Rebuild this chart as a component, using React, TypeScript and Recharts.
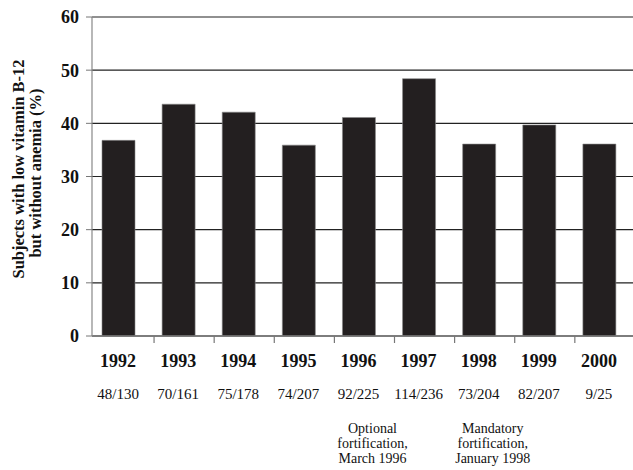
import { BarChart, Bar, XAxis, YAxis, CartesianGrid } from "recharts";

const years = ["1992", "1993", "1994", "1995", "1996", "1997", "1998", "1999", "2000"];
const percents = [36.8, 43.6, 42.1, 35.9, 41.1, 48.4, 36.1, 39.7, 36.1];
const counts = ["48/130", "70/161", "75/178", "74/207", "92/225", "114/236", "73/204", "82/207", "9/25"];
const notes = [
  [],
  [],
  [],
  [],
  ["Optional", "fortification,", "March 1996"],
  [],
  ["Mandatory", "fortification,", "January 1998"],
  [],
  [],
];
const yTicks = [0, 10, 20, 30, 40, 50, 60];

const data = years.map((year, i) => ({ year, pct: percents[i] }));

const serif = "'Liberation Serif', 'DejaVu Serif', serif";

function YearTick(props: any) {
  const { x, y, payload } = props;
  const i = payload.index;
  return (
    <g>
      {i < years.length - 1 && (
        <line x1={x + 36} x2={x + 36} y1={y} y2={y + 7} stroke="#777" strokeWidth={1.2} />
      )}
      <text x={x} y={y + 31} textAnchor="middle" fontFamily={serif} fontWeight="bold" fontSize={18} fill="#111">
        {payload.value}
      </text>
      <text x={x} y={y + 63} textAnchor="middle" fontFamily={serif} fontSize={15} fill="#111">
        {counts[i]}
      </text>
      {notes[i].map((line, k) => (
        <text key={k} x={x + 14} y={y + 97 + k * 15} textAnchor="middle" fontFamily={serif} fontSize={14} fill="#111">
          {line}
        </text>
      ))}
    </g>
  );
}

export default function App() {
  return (
    <div style={{ position: "absolute", left: 0, top: 0, width: 633, height: 470, background: "#fff" }}>
      <BarChart width={633} height={470} data={data} margin={{ top: 17, right: 0, bottom: 0, left: 0 }}>
        <CartesianGrid vertical={false} stroke="#222" strokeWidth={1.2} />
        <XAxis
          dataKey="year"
          height={134}
          interval={0}
          padding={{ left: -4, right: 4 }}
          tickLine={false}
          tickSize={0}
          tickMargin={0}
          axisLine={{ stroke: "#777", strokeWidth: 1.5 }}
          tick={<YearTick />}
        />
        <YAxis
          width={92}
          domain={[0, 60]}
          ticks={yTicks}
          interval={0}
          tickSize={6}
          tickMargin={7}
          axisLine={{ stroke: "#888", strokeWidth: 1.2 }}
          tickLine={{ stroke: "#777" }}
          tick={{ fontFamily: serif, fontWeight: "bold", fontSize: 18, fill: "#111" }}
        />
        <Bar dataKey="pct" fill="#231f20" stroke="#888" strokeWidth={0.6} barSize={33} isAnimationActive={false} />
        <text transform="rotate(-90, 24, 169)" x={24} y={169} textAnchor="middle" fontFamily={serif} fontWeight="bold" fontSize={16.5} fill="#111">
          Subjects with low vitamin B-12
        </text>
        <text transform="rotate(-90, 41, 173)" x={41} y={173} textAnchor="middle" fontFamily={serif} fontWeight="bold" fontSize={16.5} fill="#111">
          but without anemia (%)
        </text>
      </BarChart>
    </div>
  );
}
